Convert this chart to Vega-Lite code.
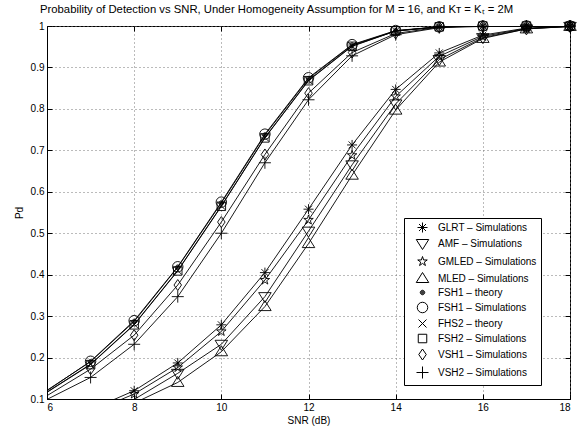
{
  "$schema": "https://vega.github.io/schema/vega-lite/v6.json",
  "autosize": {"type": "none"},
  "padding": {"left": 47, "top": 26, "right": 12, "bottom": 30},
  "width": 523,
  "height": 373,
  "background": "white",
  "title": {
    "text": "Probability of Detection vs SNR, Under Homogeneity Assumption for M = 16, and Kᴛ = Kₜ = 2M",
    "font": "Liberation Sans",
    "fontSize": 11.3,
    "fontWeight": "normal",
    "color": "black",
    "anchor": "start",
    "frame": "group",
    "dx": -7,
    "dy": 17,
    "baseline": "alphabetic",
    "offset": 11
  },
  "config": {
    "view": {"stroke": "black", "strokeWidth": 1},
    "axis": {
      "labelFont": "Liberation Sans",
      "labelFontSize": 10,
      "labelColor": "black",
      "titleFont": "Liberation Sans",
      "titleFontSize": 10,
      "titleFontWeight": "normal",
      "titleColor": "black",
      "domainColor": "black",
      "tickColor": "black",
      "tickSize": -5,
      "labelPadding": 8,
      "gridColor": "#777777",
      "gridDash": [1, 3],
      "gridWidth": 1
    },
    "legend": {
      "orient": "none",
      "legendX": 357,
      "legendY": 192,
      "strokeColor": "black",
      "fillColor": "white",
      "padding": 4,
      "symbolSize": 100,
      "labelFont": "Liberation Sans",
      "labelFontSize": 10,
      "labelColor": "black",
      "rowPadding": 2,
      "symbolOffset": 9,
      "labelOffset": 10,
      "symbolStrokeColor": "black",
      "symbolStrokeWidth": 1
    }
  },
  "resolve": {"axis": {"x": "independent", "y": "independent"}},
  "data": {
    "values": [
      {"snr": 6, "pd": 0.045, "series": "GLRT – Simulations"},
      {"snr": 7, "pd": 0.074, "series": "GLRT – Simulations"},
      {"snr": 8, "pd": 0.12, "series": "GLRT – Simulations"},
      {"snr": 9, "pd": 0.187, "series": "GLRT – Simulations"},
      {"snr": 10, "pd": 0.279, "series": "GLRT – Simulations"},
      {"snr": 11, "pd": 0.405, "series": "GLRT – Simulations"},
      {"snr": 12, "pd": 0.558, "series": "GLRT – Simulations"},
      {"snr": 13, "pd": 0.713, "series": "GLRT – Simulations"},
      {"snr": 14, "pd": 0.847, "series": "GLRT – Simulations"},
      {"snr": 15, "pd": 0.935, "series": "GLRT – Simulations"},
      {"snr": 16, "pd": 0.978, "series": "GLRT – Simulations"},
      {"snr": 17, "pd": 0.995, "series": "GLRT – Simulations"},
      {"snr": 18, "pd": 0.999, "series": "GLRT – Simulations"},

      {"snr": 6, "pd": 0.033, "series": "AMF – Simulations"},
      {"snr": 7, "pd": 0.058, "series": "AMF – Simulations"},
      {"snr": 8, "pd": 0.099, "series": "AMF – Simulations"},
      {"snr": 9, "pd": 0.162, "series": "AMF – Simulations"},
      {"snr": 10, "pd": 0.232, "series": "AMF – Simulations"},
      {"snr": 11, "pd": 0.347, "series": "AMF – Simulations"},
      {"snr": 12, "pd": 0.505, "series": "AMF – Simulations"},
      {"snr": 13, "pd": 0.665, "series": "AMF – Simulations"},
      {"snr": 14, "pd": 0.812, "series": "AMF – Simulations"},
      {"snr": 15, "pd": 0.919, "series": "AMF – Simulations"},
      {"snr": 16, "pd": 0.972, "series": "AMF – Simulations"},
      {"snr": 17, "pd": 0.993, "series": "AMF – Simulations"},
      {"snr": 18, "pd": 0.999, "series": "AMF – Simulations"},

      {"snr": 6, "pd": 0.04, "series": "GMLED – Simulations"},
      {"snr": 7, "pd": 0.068, "series": "GMLED – Simulations"},
      {"snr": 8, "pd": 0.112, "series": "GMLED – Simulations"},
      {"snr": 9, "pd": 0.176, "series": "GMLED – Simulations"},
      {"snr": 10, "pd": 0.263, "series": "GMLED – Simulations"},
      {"snr": 11, "pd": 0.387, "series": "GMLED – Simulations"},
      {"snr": 12, "pd": 0.532, "series": "GMLED – Simulations"},
      {"snr": 13, "pd": 0.688, "series": "GMLED – Simulations"},
      {"snr": 14, "pd": 0.83, "series": "GMLED – Simulations"},
      {"snr": 15, "pd": 0.927, "series": "GMLED – Simulations"},
      {"snr": 16, "pd": 0.975, "series": "GMLED – Simulations"},
      {"snr": 17, "pd": 0.994, "series": "GMLED – Simulations"},
      {"snr": 18, "pd": 0.999, "series": "GMLED – Simulations"},

      {"snr": 6, "pd": 0.03, "series": "MLED – Simulations"},
      {"snr": 7, "pd": 0.052, "series": "MLED – Simulations"},
      {"snr": 8, "pd": 0.09, "series": "MLED – Simulations"},
      {"snr": 9, "pd": 0.14, "series": "MLED – Simulations"},
      {"snr": 10, "pd": 0.214, "series": "MLED – Simulations"},
      {"snr": 11, "pd": 0.323, "series": "MLED – Simulations"},
      {"snr": 12, "pd": 0.475, "series": "MLED – Simulations"},
      {"snr": 13, "pd": 0.64, "series": "MLED – Simulations"},
      {"snr": 14, "pd": 0.797, "series": "MLED – Simulations"},
      {"snr": 15, "pd": 0.913, "series": "MLED – Simulations"},
      {"snr": 16, "pd": 0.97, "series": "MLED – Simulations"},
      {"snr": 17, "pd": 0.993, "series": "MLED – Simulations"},
      {"snr": 18, "pd": 0.999, "series": "MLED – Simulations"},

      {"snr": 6, "pd": 0.121, "series": "FSH1 – theory"},
      {"snr": 7, "pd": 0.19, "series": "FSH1 – theory"},
      {"snr": 8, "pd": 0.287, "series": "FSH1 – theory"},
      {"snr": 9, "pd": 0.418, "series": "FSH1 – theory"},
      {"snr": 10, "pd": 0.573, "series": "FSH1 – theory"},
      {"snr": 11, "pd": 0.737, "series": "FSH1 – theory"},
      {"snr": 12, "pd": 0.873, "series": "FSH1 – theory"},
      {"snr": 13, "pd": 0.954, "series": "FSH1 – theory"},
      {"snr": 14, "pd": 0.988, "series": "FSH1 – theory"},
      {"snr": 15, "pd": 0.998, "series": "FSH1 – theory"},
      {"snr": 16, "pd": 1.0, "series": "FSH1 – theory"},
      {"snr": 17, "pd": 1.0, "series": "FSH1 – theory"},
      {"snr": 18, "pd": 1.0, "series": "FSH1 – theory"},

      {"snr": 6, "pd": 0.12, "series": "FSH1 – Simulations"},
      {"snr": 7, "pd": 0.191, "series": "FSH1 – Simulations"},
      {"snr": 8, "pd": 0.289, "series": "FSH1 – Simulations"},
      {"snr": 9, "pd": 0.419, "series": "FSH1 – Simulations"},
      {"snr": 10, "pd": 0.575, "series": "FSH1 – Simulations"},
      {"snr": 11, "pd": 0.739, "series": "FSH1 – Simulations"},
      {"snr": 12, "pd": 0.875, "series": "FSH1 – Simulations"},
      {"snr": 13, "pd": 0.955, "series": "FSH1 – Simulations"},
      {"snr": 14, "pd": 0.989, "series": "FSH1 – Simulations"},
      {"snr": 15, "pd": 0.998, "series": "FSH1 – Simulations"},
      {"snr": 16, "pd": 1.0, "series": "FSH1 – Simulations"},
      {"snr": 17, "pd": 1.0, "series": "FSH1 – Simulations"},
      {"snr": 18, "pd": 1.0, "series": "FSH1 – Simulations"},

      {"snr": 6, "pd": 0.117, "series": "FHS2 – theory"},
      {"snr": 7, "pd": 0.184, "series": "FHS2 – theory"},
      {"snr": 8, "pd": 0.28, "series": "FHS2 – theory"},
      {"snr": 9, "pd": 0.41, "series": "FHS2 – theory"},
      {"snr": 10, "pd": 0.566, "series": "FHS2 – theory"},
      {"snr": 11, "pd": 0.731, "series": "FHS2 – theory"},
      {"snr": 12, "pd": 0.869, "series": "FHS2 – theory"},
      {"snr": 13, "pd": 0.952, "series": "FHS2 – theory"},
      {"snr": 14, "pd": 0.988, "series": "FHS2 – theory"},
      {"snr": 15, "pd": 0.998, "series": "FHS2 – theory"},
      {"snr": 16, "pd": 1.0, "series": "FHS2 – theory"},
      {"snr": 17, "pd": 1.0, "series": "FHS2 – theory"},
      {"snr": 18, "pd": 1.0, "series": "FHS2 – theory"},

      {"snr": 6, "pd": 0.116, "series": "FSH2 – Simulations"},
      {"snr": 7, "pd": 0.183, "series": "FSH2 – Simulations"},
      {"snr": 8, "pd": 0.279, "series": "FSH2 – Simulations"},
      {"snr": 9, "pd": 0.409, "series": "FSH2 – Simulations"},
      {"snr": 10, "pd": 0.565, "series": "FSH2 – Simulations"},
      {"snr": 11, "pd": 0.73, "series": "FSH2 – Simulations"},
      {"snr": 12, "pd": 0.868, "series": "FSH2 – Simulations"},
      {"snr": 13, "pd": 0.951, "series": "FSH2 – Simulations"},
      {"snr": 14, "pd": 0.988, "series": "FSH2 – Simulations"},
      {"snr": 15, "pd": 0.998, "series": "FSH2 – Simulations"},
      {"snr": 16, "pd": 1.0, "series": "FSH2 – Simulations"},
      {"snr": 17, "pd": 1.0, "series": "FSH2 – Simulations"},
      {"snr": 18, "pd": 1.0, "series": "FSH2 – Simulations"},

      {"snr": 6, "pd": 0.108, "series": "VSH1 – Simulations"},
      {"snr": 7, "pd": 0.172, "series": "VSH1 – Simulations"},
      {"snr": 8, "pd": 0.254, "series": "VSH1 – Simulations"},
      {"snr": 9, "pd": 0.375, "series": "VSH1 – Simulations"},
      {"snr": 10, "pd": 0.527, "series": "VSH1 – Simulations"},
      {"snr": 11, "pd": 0.69, "series": "VSH1 – Simulations"},
      {"snr": 12, "pd": 0.838, "series": "VSH1 – Simulations"},
      {"snr": 13, "pd": 0.936, "series": "VSH1 – Simulations"},
      {"snr": 14, "pd": 0.982, "series": "VSH1 – Simulations"},
      {"snr": 15, "pd": 0.997, "series": "VSH1 – Simulations"},
      {"snr": 16, "pd": 1.0, "series": "VSH1 – Simulations"},
      {"snr": 17, "pd": 1.0, "series": "VSH1 – Simulations"},
      {"snr": 18, "pd": 1.0, "series": "VSH1 – Simulations"},

      {"snr": 6, "pd": 0.099, "series": "VSH2 – Simulations"},
      {"snr": 7, "pd": 0.152, "series": "VSH2 – Simulations"},
      {"snr": 8, "pd": 0.232, "series": "VSH2 – Simulations"},
      {"snr": 9, "pd": 0.347, "series": "VSH2 – Simulations"},
      {"snr": 10, "pd": 0.5, "series": "VSH2 – Simulations"},
      {"snr": 11, "pd": 0.67, "series": "VSH2 – Simulations"},
      {"snr": 12, "pd": 0.822, "series": "VSH2 – Simulations"},
      {"snr": 13, "pd": 0.928, "series": "VSH2 – Simulations"},
      {"snr": 14, "pd": 0.979, "series": "VSH2 – Simulations"},
      {"snr": 15, "pd": 0.996, "series": "VSH2 – Simulations"},
      {"snr": 16, "pd": 0.999, "series": "VSH2 – Simulations"},
      {"snr": 17, "pd": 1.0, "series": "VSH2 – Simulations"},
      {"snr": 18, "pd": 1.0, "series": "VSH2 – Simulations"}
    ]
  },
  "layer": [
    {
      "mark": {"type": "line", "clip": true, "stroke": "black", "strokeWidth": 0.9},
      "encoding": {
        "x": {
          "field": "snr", "type": "quantitative",
          "scale": {"domain": [6, 18], "nice": false, "zero": false},
          "axis": {"orient": "bottom", "values": [6, 8, 10, 12, 14, 16, 18], "title": "SNR (dB)", "titlePadding": 3, "grid": true}
        },
        "y": {
          "field": "pd", "type": "quantitative",
          "scale": {"domain": [0.1, 1], "nice": false, "zero": false},
          "axis": {"orient": "left", "values": [0.1, 0.2, 0.3, 0.4, 0.5, 0.6, 0.7, 0.8, 0.9, 1], "format": ".1~f", "title": "Pd", "titlePadding": 6, "grid": true}
        },
        "detail": {"field": "series"}
      }
    },
    {
      "transform": [{"filter": "datum.snr >= 7 && datum.pd >= 0.1"}],
      "mark": {"type": "point", "clip": false, "filled": false, "color": "black", "strokeWidth": 0.9, "opacity": 1, "size": 100},
      "encoding": {
        "x": {"field": "snr", "type": "quantitative", "axis": {"orient": "top", "labels": false, "grid": false, "title": null, "domain": false, "values": [6, 8, 10, 12, 14, 16, 18]}},
        "y": {"field": "pd", "type": "quantitative", "axis": {"orient": "right", "labels": false, "grid": false, "title": null, "domain": false, "values": [0.1, 0.2, 0.3, 0.4, 0.5, 0.6, 0.7, 0.8, 0.9, 1]}},
        "shape": {
          "field": "series", "type": "nominal",
          "scale": {
            "domain": ["GLRT – Simulations", "AMF – Simulations", "GMLED – Simulations", "MLED – Simulations", "FSH1 – theory", "FSH1 – Simulations", "FHS2 – theory", "FSH2 – Simulations", "VSH1 – Simulations", "VSH2 – Simulations"],
            "range": [
              "M-1,0L1,0M0,-1L0,1M-0.7,-0.7L0.7,0.7M-0.7,0.7L0.7,-0.7",
              "M-1.25,-0.8L1.25,-0.8L0,1.2Z",
              "M0,-1L0.225,-0.309L0.951,-0.309L0.363,0.118L0.588,0.809L0,0.382L-0.588,0.809L-0.363,0.118L-0.951,-0.309L-0.225,-0.309Z",
              "M-1.25,0.8L1.25,0.8L0,-1.2Z",
              "M-0.45,0A0.45,0.45 0 1,0 0.45,0A0.45,0.45 0 1,0 -0.45,0ZM-0.28,0A0.28,0.28 0 1,0 0.28,0A0.28,0.28 0 1,0 -0.28,0ZM-0.12,0A0.12,0.12 0 1,0 0.12,0A0.12,0.12 0 1,0 -0.12,0Z",
              "M-1.05,0A1.05,1.05 0 1,0 1.05,0A1.05,1.05 0 1,0 -1.05,0Z",
              "M-0.8,-0.8L0.8,0.8M-0.8,0.8L0.8,-0.8",
              "M-0.85,-0.85L0.85,-0.85L0.85,0.85L-0.85,0.85Z",
              "M0,-1.1L0.75,0L0,1.1L-0.75,0Z",
              "M-1.2,0L1.2,0M0,-1.2L0,1.2"
            ]
          },
          "legend": {
            "title": null,
            "encode": {
              "symbols": {
                "update": {
                  "shape": {"signal": "['M-2.4,0L2.4,0M-1,0L1,0M0,-1L0,1M-0.7,-0.7L0.7,0.7M-0.7,0.7L0.7,-0.7', 'M-2.4,0L2.4,0M-1.25,-0.8L1.25,-0.8L0,1.2Z', 'M-2.4,0L2.4,0M0,-1L0.225,-0.309L0.951,-0.309L0.363,0.118L0.588,0.809L0,0.382L-0.588,0.809L-0.363,0.118L-0.951,-0.309L-0.225,-0.309Z', 'M-2.4,0L2.4,0M-1.25,0.8L1.25,0.8L0,-1.2Z', 'M-2.4,0L2.4,0M-0.45,0A0.45,0.45 0 1,0 0.45,0A0.45,0.45 0 1,0 -0.45,0ZM-0.28,0A0.28,0.28 0 1,0 0.28,0A0.28,0.28 0 1,0 -0.28,0ZM-0.12,0A0.12,0.12 0 1,0 0.12,0A0.12,0.12 0 1,0 -0.12,0Z', 'M-2.4,0L2.4,0M-1.05,0A1.05,1.05 0 1,0 1.05,0A1.05,1.05 0 1,0 -1.05,0Z', 'M-2.4,0L2.4,0M-0.8,-0.8L0.8,0.8M-0.8,0.8L0.8,-0.8', 'M-2.4,0L2.4,0M-0.85,-0.85L0.85,-0.85L0.85,0.85L-0.85,0.85Z', 'M-2.4,0L2.4,0M0,-1.1L0.75,0L0,1.1L-0.75,0Z', 'M-2.4,0L2.4,0M-1.2,0L1.2,0M0,-1.2L0,1.2'][indexof(['GLRT – Simulations', 'AMF – Simulations', 'GMLED – Simulations', 'MLED – Simulations', 'FSH1 – theory', 'FSH1 – Simulations', 'FHS2 – theory', 'FSH2 – Simulations', 'VSH1 – Simulations', 'VSH2 – Simulations'], datum.value)]"}
                }
              },
              "symbols_unused": {}
            }
          }
        }
      }
    }
  ]
}
